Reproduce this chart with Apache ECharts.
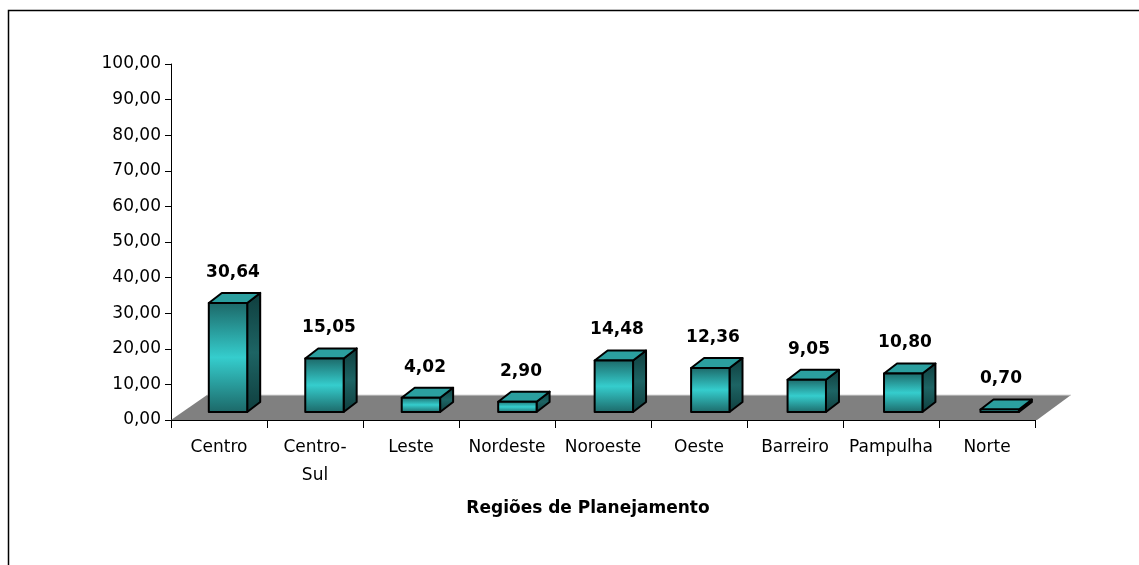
<!DOCTYPE html>
<html>
<head>
<meta charset="utf-8">
<script src="https://cdn.jsdelivr.net/npm/echarts@6/dist/echarts.min.js"></script>
<style>
  html, body { margin: 0; padding: 0; background: #fff; }
  #chart { width: 1139px; height: 565px; }
</style>
</head>
<body>
<div id="chart"></div>
<script>
// dados
var regioes = ['Centro', 'Centro-Sul', 'Leste', 'Nordeste', 'Noroeste', 'Oeste', 'Barreiro', 'Pampulha', 'Norte'];
var percentuais = [30.64, 15.05, 4.02, 2.90, 14.48, 12.36, 9.05, 10.80, 0.70];
var eixoMin = 0;
var eixoMax = 100;
var eixoPasso = 10;

var fonte = 'DejaVu Sans';

function virgula(v, casas) {
  return Number(v).toFixed(casas).replace('.', ',');
}

// piso cinza do grafico 3d
function renderPiso(params, api) {
  var cs = params.coordSys;
  var y = api.coord([0, eixoMin])[1];
  var x0 = cs.x, x1 = cs.x + cs.width;
  return {
    type: 'group',
    children: [
      {
        type: 'polygon',
        shape: { points: [[x0, y], [x1 + 2, y], [x1 + 36, y - 25], [x0 + 36, y - 25]] },
        style: { fill: '#808080' }
      },
      {
        type: 'line',
        shape: { x1: x0 + 36, y1: y - 25, x2: x1 + 36, y2: y - 25 },
        style: { stroke: '#d8d8d8', lineWidth: 1 }
      }
    ]
  };
}

// barra 3d: frente, lado e topo
function renderBarra(params, api) {
  var idx = api.value(0);
  var val = api.value(1);
  var base = api.coord([idx, eixoMin]);
  var topo = api.coord([idx, val]);
  var banda = api.size([1, 0])[0];
  var w = banda * 0.40;
  var desloc = 9 + (base[0] - 219) * 0.0048;
  var x0 = base[0] + desloc - w / 2, x1 = x0 + w;
  var yb = base[1] - 8, yt = topo[1] - 8;
  var dx = 13, dy = -10;
  var borda = { stroke: '#000', lineWidth: 2, lineJoin: 'round' };
  var frente = new echarts.graphic.LinearGradient(0, 0, 0, 1, [
    { offset: 0, color: '#1c6767' },
    { offset: 0.5, color: '#35cdcd' },
    { offset: 1, color: '#1c6767' }
  ]);
  var lado = new echarts.graphic.LinearGradient(0, 0, 0, 1, [
    { offset: 0, color: '#0f3d3d' },
    { offset: 0.5, color: '#1d6464' },
    { offset: 1, color: '#0f3d3d' }
  ]);
  return {
    type: 'group',
    children: [
      {
        type: 'polygon',
        shape: { points: [[x1, yt], [x1 + dx, yt + dy], [x1 + dx, yb + dy], [x1, yb]] },
        style: Object.assign({ fill: lado }, borda)
      },
      {
        type: 'polygon',
        shape: { points: [[x0, yt], [x0 + dx, yt + dy], [x1 + dx, yt + dy], [x1, yt]] },
        style: Object.assign({ fill: '#2b9f9f' }, borda)
      },
      {
        type: 'rect',
        shape: { x: x0, y: yt, width: w, height: yb - yt },
        style: Object.assign({ fill: frente }, borda)
      },
      {
        type: 'text',
        x: base[0] + 14,
        y: yt - 22,
        style: {
          text: virgula(val, 2),
          fill: '#000',
          font: 'bold 17px "' + fonte + '"',
          align: 'center',
          verticalAlign: 'bottom'
        }
      }
    ]
  };
}

var dadosBarras = percentuais.map(function (v, i) { return [i, v]; });

var chart = echarts.init(document.getElementById('chart'));
chart.setOption({
  animation: false,
  backgroundColor: '#fff',
  textStyle: { fontFamily: fonte },
  graphic: [{
    type: 'polyline',
    shape: { points: [[8.5, 565], [8.5, 10.5], [1139, 10.5]] },
    style: { stroke: '#000', lineWidth: 1.5, fill: null }
  }],
  grid: { left: 171, right: 104, top: 64, bottom: 145 },
  xAxis: {
    type: 'category',
    data: regioes,
    z: 5,
    name: 'Regiões de Planejamento',
    nameLocation: 'middle',
    nameGap: 80,
    nameTextStyle: { fontFamily: fonte, fontSize: 17, fontWeight: 'bold', color: '#000', padding: [0, 30, 0, 0] },
    axisLine: { lineStyle: { color: '#000', width: 1 } },
    axisTick: { show: true, length: 8, interval: 0, lineStyle: { color: '#000' } },
    axisLabel: {
      interval: 0,
      margin: 14,
      color: '#000',
      fontFamily: fonte,
      fontSize: 17,
      lineHeight: 28,
      formatter: function (v) { return v.replace('-', '-\n'); }
    }
  },
  yAxis: {
    type: 'value',
    min: eixoMin,
    max: eixoMax,
    interval: eixoPasso,
    axisLine: { show: true, lineStyle: { color: '#000', width: 1 } },
    axisTick: { show: true, length: 6, lineStyle: { color: '#000' } },
    splitLine: { show: false },
    axisLabel: {
      margin: 10,
      color: '#000',
      fontFamily: fonte,
      fontSize: 17,
      formatter: function (v) { return virgula(v, 2); }
    }
  },
  series: [
    {
      type: 'custom',
      name: 'piso',
      renderItem: renderPiso,
      data: [[0, 0]],
      z: 1,
      silent: true
    },
    {
      type: 'custom',
      name: 'Regiões',
      renderItem: renderBarra,
      encode: { x: 0, y: 1 },
      data: dadosBarras,
      z: 2
    }
  ]
});
</script>
</body>
</html>
